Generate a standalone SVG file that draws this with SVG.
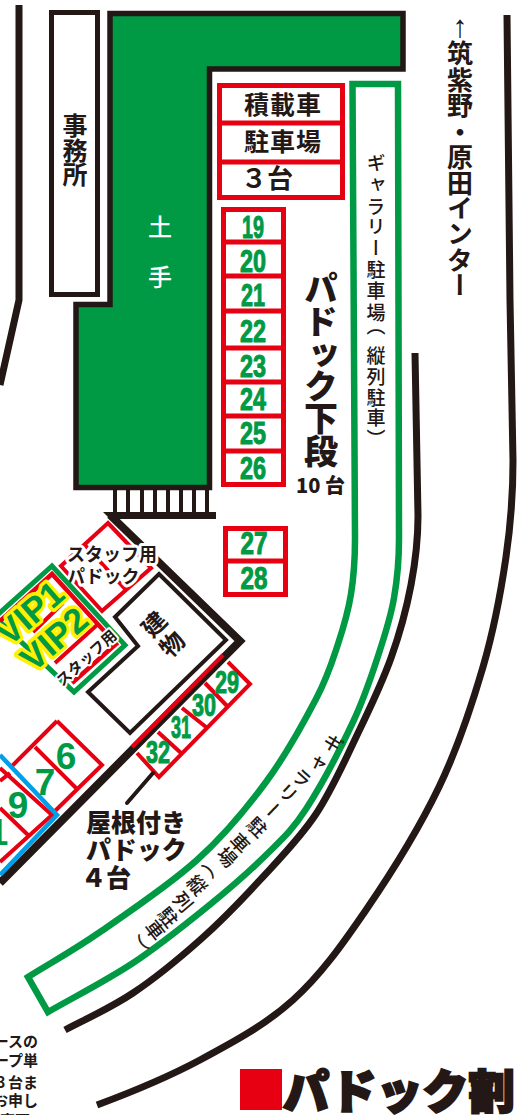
<svg xmlns="http://www.w3.org/2000/svg" width="526" height="1115" viewBox="0 0 526 1115">
<style>
text{font-family:"Noto Sans CJK JP","Noto Sans",sans-serif;fill:#231815}
.v{writing-mode:vertical-rl;text-anchor:middle}
.b{font-weight:700}
.k{font-weight:900}
.m{font-weight:500}
.w{fill:none;stroke:#231815;stroke-miterlimit:10}
.r{fill:#fff;stroke:#e60012;stroke-width:5}
.rl{fill:none;stroke:#e60012;stroke-width:4}
.g{fill:none;stroke:#009944;stroke-width:6.5}
.n{font-family:"Liberation Sans",Arial,sans-serif;font-weight:700;font-size:31px;fill:#009944;text-anchor:middle;stroke:#009944;stroke-width:1}
.d{font-family:"Liberation Sans",Arial,sans-serif;font-size:37px;fill:#009944;text-anchor:middle;font-weight:700}
.h{stroke:#fff;stroke-width:6;paint-order:stroke;stroke-linejoin:round}
.vip{font-family:"Liberation Sans",Arial,sans-serif;font-weight:700;font-size:35px;fill:#009944;stroke:#fff100;stroke-width:7;paint-order:stroke;stroke-linejoin:round;text-anchor:middle}
.f{font-size:15px;font-weight:700;text-anchor:end}
.c{font-size:19px;font-weight:500}
</style>

<g id="walls">
<path class="w" stroke-width="7" d="M19 5V300L0 385"/>
<path class="w" stroke-width="8" d="M110 515L240 641L0 883"/>
<path class="w" stroke-width="7" d="M507 15L510 300L513 461C513 490 511 522.7 506 557C501 591.3 494.2 628.7 483 667C471.8 705.3 458.5 746.5 439 787C419.5 827.5 390.3 874.5 366 910C341.7 945.5 320.7 975 293 1000C265.3 1025 232.7 1042.5 200 1060C167.3 1077.5 132 1092 97 1105"/>
<path class="w" stroke-width="7" d="M415 353L418 516C418 535 415.5 561.3 411 585C406.5 608.7 399.7 633.7 391 658C382.3 682.3 371.5 705 359 731C346.5 757 332.5 789.2 316 814C299.5 838.8 279.3 859 260 880C240.7 901 221.2 921.2 200 940C178.8 958.8 155.5 978 133 993C110.5 1008 88 1018 65 1030"/>
</g>

<g id="office">
<rect x="51.5" y="12.5" width="46" height="282" fill="#fff" stroke="#231815" stroke-width="5"/>
<text class="v b" x="75" y="125 150 174" font-size="25">事務所</text>
</g>

<g id="embankment">
<path d="M110 13.5H403V69H209.5V487.5H76V304.5H110Z" fill="#009944" stroke="#231815" stroke-width="5.5"/>
<text class="v m" x="160" y="227 277" font-size="24" style="fill:#fff">土手</text>
</g>

<g id="stairs" fill="#231815">
<rect x="113" y="488" width="4" height="26"/><rect x="126" y="488" width="4" height="26"/><rect x="140" y="488" width="4" height="26"/><rect x="153" y="488" width="4" height="26"/><rect x="166" y="488" width="4" height="26"/><rect x="179" y="488" width="4" height="26"/><rect x="192" y="488" width="4" height="26"/><rect x="205" y="488" width="4" height="26"/>
<path d="M103 512H216V519H110Z"/>
</g>

<g id="transporter-parking">
<rect x="219.5" y="85.5" width="123" height="112" class="r"/>
<path d="M219 123H343M219 162H343" fill="none" stroke="#e60012" stroke-width="5"/>
<text class="b" x="283" y="114" font-size="25" text-anchor="middle" letter-spacing="1">積載車</text>
<text class="b" x="283" y="151" font-size="25" text-anchor="middle" letter-spacing="1">駐車場</text>
<text class="b" x="241" y="188" font-size="26">３台</text>
</g>

<g id="paddock-lower">
<rect x="223.5" y="209.5" width="60" height="275" class="r"/>
<path d="M223 242H284M223 276H284M223 311H284M223 348H284M223 382H284M223 416H284M223 451H284" fill="none" stroke="#e60012" stroke-width="5"/>
<text class="n" x="253" y="238" textLength="22" lengthAdjust="spacingAndGlyphs">19</text>
<text class="n" x="253" y="272" textLength="26" lengthAdjust="spacingAndGlyphs">20</text>
<text class="n" x="253" y="306" textLength="24" lengthAdjust="spacingAndGlyphs">21</text>
<text class="n" x="253" y="342" textLength="26" lengthAdjust="spacingAndGlyphs">22</text>
<text class="n" x="253" y="377" textLength="26" lengthAdjust="spacingAndGlyphs">23</text>
<text class="n" x="253" y="410" textLength="26" lengthAdjust="spacingAndGlyphs">24</text>
<text class="n" x="253" y="444" textLength="26" lengthAdjust="spacingAndGlyphs">25</text>
<text class="n" x="253" y="479" textLength="26" lengthAdjust="spacingAndGlyphs">26</text>
</g>

<g id="paddock-lower-extra">
<rect x="225.5" y="528.5" width="60" height="66" class="r"/>
<path d="M225 561H286" fill="none" stroke="#e60012" stroke-width="5"/>
<text class="n" x="254" y="554" textLength="27" lengthAdjust="spacingAndGlyphs">27</text>
<text class="n" x="254" y="589" textLength="27" lengthAdjust="spacingAndGlyphs">28</text>
</g>

<g id="paddock-lower-label">
<text class="v k" x="321" y="288 321 355 386 418 451" font-size="34">パドック下段</text>
<text class="k" x="296" y="493" font-size="20">10 台</text>
</g>

<g id="gallery-parking">
<path class="g" d="M352.5 84H398L399 539C399 559 397.3 579 394 598C390.7 617 385.8 632.3 379 653C372.2 673.7 365.2 696 353 722C340.8 748 320.5 786.8 306 809C291.5 831.2 282.5 838.7 266 855C249.5 871.3 229.2 889 207 907C184.8 925 159.5 945.5 133 963C106.5 980.5 76 996 48 1012L28 977C52 962 71.8 951.5 100 932C128.2 912.5 169.3 885 197 860C224.7 835 246.2 808.8 266 782C285.8 755.2 304 722 316 699C328 676 332.2 661.5 338 644C343.8 626.5 348.2 611.5 351 594C353.8 576.5 355 559 355 539Z"/>
<text class="v m" x="376" y="163 185 207 227 248 270 291 313 326 356 377 398 418 439" font-size="19">ギャラリー駐車場（縦列駐車）</text>
<g id="gallery-text-curve">
<text class="v c" transform="translate(333 743) rotate(40)">ギ</text>
<text class="v c" transform="translate(317 762) rotate(41)">ャ</text>
<text class="v c" transform="translate(302 778) rotate(42)">ラ</text>
<text class="v c" transform="translate(288 793) rotate(43)">リ</text>
<text class="v c" transform="translate(273 810) rotate(44)">ー</text>
<text class="v c" transform="translate(257 827) rotate(45)">駐</text>
<text class="v c" transform="translate(240 843) rotate(46)">車</text>
<text class="v c" transform="translate(227 857) rotate(47)">場</text>
<text class="v c" transform="translate(213 867) rotate(48)">（</text>
<text class="v c" transform="translate(197 885) rotate(49)">縦</text>
<text class="v c" transform="translate(183 902) rotate(50)">列</text>
<text class="v c" transform="translate(168 917) rotate(51)">駐</text>
<text class="v c" transform="translate(155 930) rotate(52)">車</text>
<text class="v c" transform="translate(138 946) rotate(53)">）</text>
</g>
</g>

<g id="direction">
<text x="460" y="37" font-size="31" text-anchor="middle" style="font-family:'Liberation Sans',sans-serif">↑</text>
<text class="v b" x="460" y="53 80 105 132 157 183 208 233 260 285" font-size="26">筑紫野・原田インター</text>
</g>

<g id="building">
<path d="M159 574L226 640L130 733L88 692L138 646L115 617Z" fill="#fff" stroke="#231815" stroke-width="4"/>
<g transform="translate(154 624) rotate(-45)"><text class="v b" x="0" y="0" font-size="24">建</text></g>
<g transform="translate(172 644) rotate(-45)"><text class="v b" x="0" y="0" font-size="24">物</text></g>
</g>

<g id="staff-paddock">
<path d="M108 523L151 568L102 611L61 566ZM84 544L126 590" class="rl"/>
<text class="b h" x="67" y="561" font-size="18">スタッフ用</text>
<text class="b h" x="67" y="583" font-size="18">パドック</text>
</g>

<g id="vip-area">
<path d="M-5 617L52 566L125 645L74 692Z" fill="#fff" stroke="#009944" stroke-width="5"/>
<path d="M0 621L52 574L116 644L72 683" fill="none" stroke="#e60012" stroke-width="4.5"/>
<path d="M33 632L63 603M55 663L97 625" class="rl"/>
<text class="vip" transform="translate(38 622) rotate(-41)">VIP1</text>
<text class="vip" transform="translate(62 648) rotate(-41)">VIP2</text>
<text class="b h" font-size="15" text-anchor="middle" transform="translate(90 662) rotate(-42)" style="stroke-width:4">スタッフ用</text>
</g>

<g id="paddock-roofed">
<path d="M132 747L223 655M228 662L250 684L159 777L137 753M205 683L228 707M182 708L206 727M158 732L181 753" class="rl"/>
<text class="n" x="227" y="693" textLength="24" lengthAdjust="spacingAndGlyphs">29</text>
<text class="n" x="204" y="716" textLength="24" lengthAdjust="spacingAndGlyphs">30</text>
<text class="n" x="181" y="738" textLength="20" lengthAdjust="spacingAndGlyphs">31</text>
<text class="n" x="158" y="763" textLength="24" lengthAdjust="spacingAndGlyphs">32</text>
</g>

<g id="paddock-6-9">
<path d="M57 721L12 766M57 721L102 765L55 811M35 747L76 788M0 781L10 773M0 768L52 815L0 862M28 835L0 808" class="rl"/>
<path d="M0 755L57 815L0 875" fill="none" stroke="#00a0e9" stroke-width="4.5"/>
<text class="d" x="66" y="769">6</text>
<text class="d" x="45" y="795">7</text>
<text class="d" x="18" y="818">9</text>
<text class="d" x="-2" y="845">1</text>
</g>

<g id="connectors">
<path d="M153 773L127 803" fill="none" stroke="#231815" stroke-width="4" stroke-linecap="round"/>
</g>

<g id="roofed-label">
<text class="k" x="86" y="832" font-size="25">屋根付き</text>
<text class="k" x="86" y="859" font-size="25">パドック</text>
<text class="k" x="81" y="887" font-size="25">４台</text>
</g>

<g id="footnote">
<text class="f" x="38" y="1047">ースの</text>
<text class="f" x="38" y="1066">ープ単</text>
<text class="f" x="38" y="1088">３台ま</text>
<text class="f" x="38" y="1106">お申し</text>
<text class="f" x="30" y="1126">変更</text>
</g>

<g id="title">
<rect x="240" y="1069" width="42" height="41" fill="#e60012"/>
<text x="283" y="1108" font-size="46" font-weight="900" stroke="#231815" stroke-width="2.5">パドック割</text>
</g>
</svg>
